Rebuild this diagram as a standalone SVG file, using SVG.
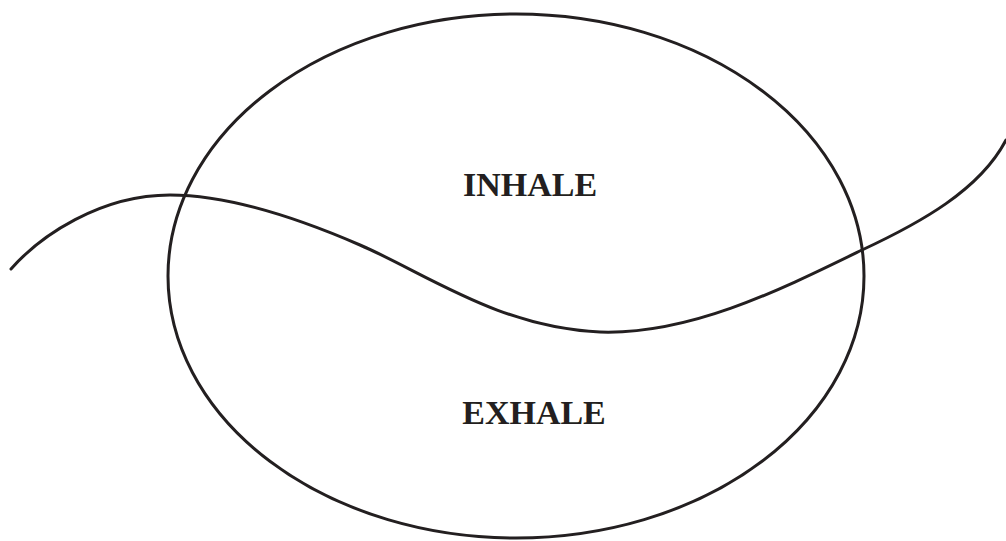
<svg xmlns="http://www.w3.org/2000/svg" width="1006" height="541" viewBox="0 0 1006 541">
<style>
.ln{fill:none;stroke:#231f20;stroke-width:3;stroke-linecap:round}
.lbl{font-family:"Liberation Serif","Times New Roman",serif;font-weight:bold;font-size:34px;fill:#231f20;text-anchor:middle}
</style>
<rect width="1006" height="541" fill="#fff"/>
<g id="oval">
<ellipse class="ln" cx="516" cy="276" rx="348" ry="262"/>
</g>
<g id="inhale"><text class="lbl" x="530" y="196">INHALE</text></g>
<g id="exhale"><text class="lbl" x="534" y="424">EXHALE</text></g>
<g id="connectors">
<path class="ln" d="M11,269 C40,236 100,195 170,195 C230,195 300,219 360,245 C425,273 500,328 600,332 C690,335 780,290 862,250 C920,223 980,190 1006,140"/>
</g>
</svg>
